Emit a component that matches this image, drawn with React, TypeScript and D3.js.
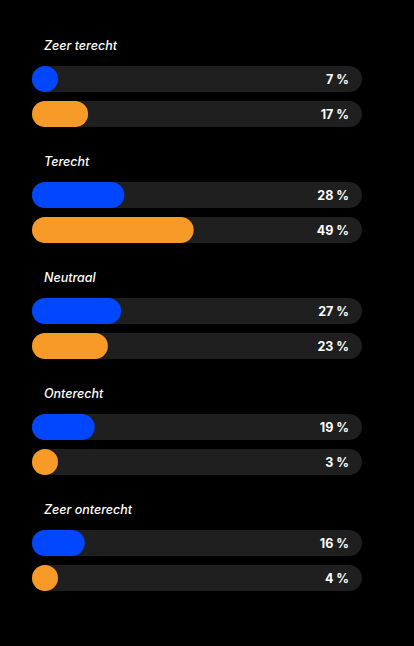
import { useEffect, useRef } from "react";
import * as d3 from "d3";

const categories = ["Zeer terecht", "Terecht", "Neutraal", "Onterecht", "Zeer onterecht"];
const seriesNames = ["blauw", "oranje"];
const blueValues = [7, 28, 27, 19, 16];
const orangeValues = [17, 49, 23, 3, 4];

const seriesColors = ["#0047ff", "#f89a28"];

function App() {
  const ref = useRef<SVGSVGElement | null>(null);
  const width = 414;
  const height = 646;

  useEffect(() => {
    const svg = d3.select(ref.current);
    svg.selectAll("*").remove();

    const trackX = 32;
    const trackW = 330;
    const barH = 26;
    const rowGap = 35;

    const groupY = d3.scaleBand<string>()
      .domain(categories)
      .range([50, 50 + categories.length * 116])
      .paddingInner(0);

    const xScale = d3.scaleLinear().domain([0, 100]).range([0, trackW]);

    const colorScale = d3.scaleOrdinal<string, string>()
      .domain(seriesNames)
      .range(seriesColors);

    const data = categories.map((c, i) => ({
      category: c,
      values: [
        { series: seriesNames[0], value: blueValues[i] },
        { series: seriesNames[1], value: orangeValues[i] },
      ],
    }));

    const groups = svg.selectAll(".group")
      .data(data)
      .join("g")
      .attr("class", "group")
      .attr("transform", d => `translate(0, ${groupY(d.category)})`);

    groups.append("text")
      .text(d => d.category)
      .attr("x", 44)
      .attr("y", 0)
      .attr("fill", "#ffffff")
      .style("font-family", "Inter, 'Noto Sans', sans-serif")
      .style("font-size", "12.5px")
      .style("font-style", "italic")
      .style("font-weight", 500);

    const rows = groups.selectAll(".row")
      .data(d => d.values)
      .join("g")
      .attr("class", "row")
      .attr("transform", (_d, i) => `translate(${trackX}, ${16 + i * rowGap})`);

    rows.append("rect")
      .attr("width", trackW)
      .attr("height", barH)
      .attr("rx", barH / 2)
      .attr("fill", "#1f1f1f");

    rows.append("rect")
      .attr("width", d => Math.max(barH, xScale(d.value)))
      .attr("height", barH)
      .attr("rx", barH / 2)
      .attr("fill", d => colorScale(d.series));

    rows.append("text")
      .text(d => `${d.value} %`)
      .attr("x", trackW - 13)
      .attr("y", barH / 2)
      .attr("text-anchor", "end")
      .attr("dominant-baseline", "central")
      .attr("fill", "#ffffff")
      .style("font-family", "Inter, 'Noto Sans', sans-serif")
      .style("font-size", "12.5px")
      .style("font-weight", 700);
  }, []);

  return (
    <div style={{ position: "fixed", top: 0, left: 0, width, height, background: "#000" }}>
      <svg ref={ref} width={width} height={height} style={{ display: "block" }} />
    </div>
  );
}

export default App;
